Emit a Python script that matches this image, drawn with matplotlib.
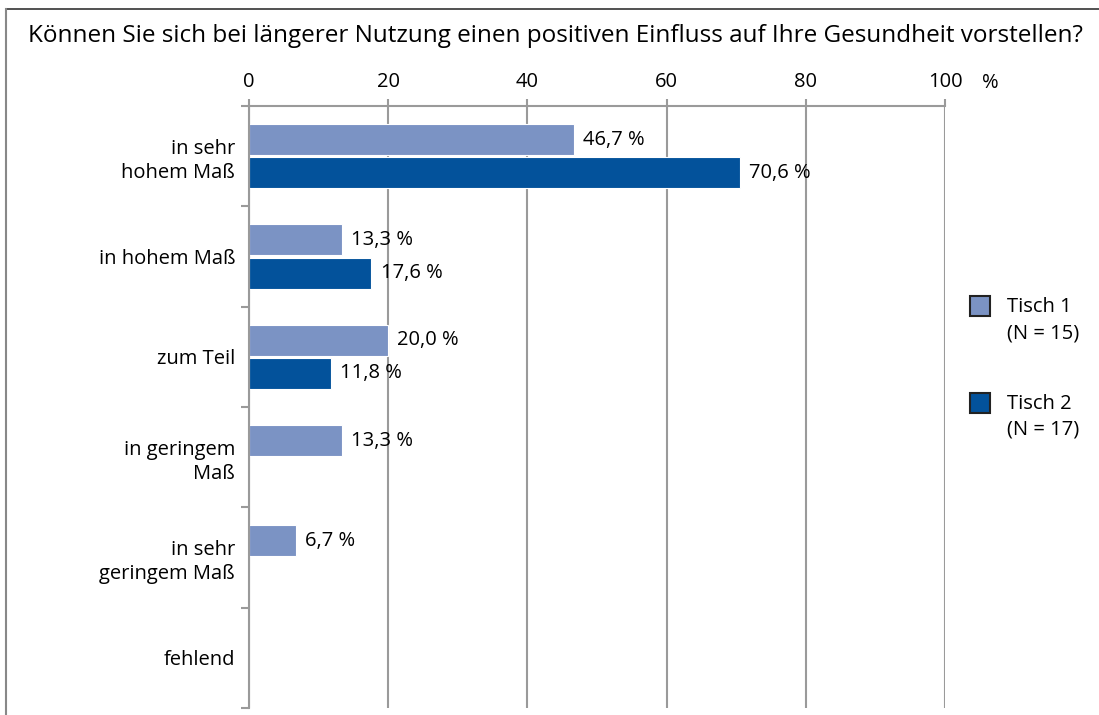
import numpy as np
import matplotlib.pyplot as plt
from matplotlib.lines import Line2D
from matplotlib.patches import Rectangle

# Umfragedaten
kategorien = ["in sehr\nhohem Maß", "in hohem Maß", "zum Teil",
              "in geringem\nMaß", "in sehr\ngeringem Maß", "fehlend"]
tisch1 = [46.7, 13.3, 20.0, 13.3, 6.7, 0.0]
tisch2 = [70.6, 17.6, 11.8, 0.0, 0.0, 0.0]
gruppen = ["Tisch 1", "Tisch 2"]
stichprobe = ["(N = 15)", "(N = 17)"]
titel = "Können Sie sich bei längerer Nutzung einen positiven Einfluss auf Ihre Gesundheit vorstellen?"

farbe1 = "#7b93c4"
farbe2 = "#03529b"
grau = "#9a9a9a"
fs = 14.5

plt.rcParams['font.family'] = ['Open Sans', 'DejaVu Sans']

fig = plt.figure(figsize=(10.99, 7.15), dpi=100)
W, H = 1099, 715
ax = fig.add_axes([249 / W, 1 - 708 / H, (945 - 249) / W, (708 - 106) / H])

y = np.arange(len(kategorien))
h = 0.31
b1 = ax.barh(y - 0.165, tisch1, height=h, color=farbe1, edgecolor="white", linewidth=0.8)
b2 = ax.barh(y + 0.165, tisch2, height=h, color=farbe2, edgecolor="white", linewidth=0.8)

for bars, werte in ((b1, tisch1), (b2, tisch2)):
    for bar, v in zip(bars, werte):
        if v > 0:
            ax.text(v + 1.3, bar.get_y() + bar.get_height() / 2,
                    f"{v:.1f} %".replace(".", ","), va="center", ha="left", fontsize=fs)

ax.set_xlim(0, 100)
ax.set_ylim(len(kategorien) - 0.5, -0.5)
ax.set_xticks([0, 20, 40, 60, 80, 100])
ax.xaxis.tick_top()
ax.tick_params(axis="x", length=5, width=1.5, color=grau, labelsize=fs, pad=5)
ax.grid(axis="x", color=grau, linewidth=1.5)
ax.set_axisbelow(True)

ax.set_yticks(y)
ax.set_yticklabels(kategorien, fontsize=fs, linespacing=1.3)
ax.set_yticks(np.arange(-0.5, len(kategorien)), minor=True)
ax.tick_params(axis="y", which="major", length=0, pad=10)
ax.tick_params(axis="y", which="minor", length=6, width=1.5, color=grau)

for s in ("right", "bottom"):
    ax.spines[s].set_visible(False)
for s in ("top", "left"):
    ax.spines[s].set_color(grau)
    ax.spines[s].set_linewidth(1.5)

fig.text(990 / W, 1 - 83 / H, "%", fontsize=fs, ha="center", va="center")
fig.text(0.5 + 6 / W, 1 - 36 / H, titel, fontsize=17.5, ha="center", va="center")

# Legende: Kästchen neben der ersten Zeile, Stichprobengröße darunter
for i, (farbe, name, n) in enumerate(zip((farbe1, farbe2), gruppen, stichprobe)):
    top = 296 + i * 97
    fig.add_artist(Rectangle((970 / W, 1 - (top + 20) / H), 20 / W, 20 / H,
                             transform=fig.transFigure, facecolor=farbe,
                             edgecolor="#222222", linewidth=1.5))
    fig.text(1007 / W, 1 - (top + 11) / H, name, fontsize=fs, ha="left", va="center")
    fig.text(1007 / W, 1 - (top + 37) / H, n, fontsize=fs, ha="left", va="center")

# Rahmen um die Grafik
fig.add_artist(Line2D([5.5 / W, 1], [1 - 9 / H, 1 - 9 / H], color="#333333", linewidth=1.2))
fig.add_artist(Line2D([5.5 / W, 5.5 / W], [0, 1 - 9 / H], color="#888888", linewidth=1.5))

fig.savefig("out.png", dpi=100)
